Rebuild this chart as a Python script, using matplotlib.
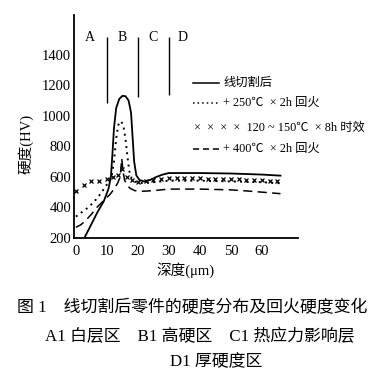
import matplotlib
matplotlib.use("Agg")
import matplotlib.pyplot as plt
from matplotlib.lines import Line2D

plt.rcParams['font.family'] = ['Liberation Serif', 'Noto Sans CJK SC', 'DejaVu Sans']

# as-cut (solid)
cut_x = [3, 5, 7, 9, 10.5, 11.3, 11.8, 12.3, 13, 14, 15, 16, 17, 17.8, 18.3, 18.8,
         19.5, 20.5, 22, 24, 26, 28, 30, 40, 50, 60, 66]
cut_y = [210, 290, 370, 440, 520, 600, 750, 920, 1050, 1110, 1130, 1128, 1100, 1020,
         860, 700, 610, 580, 570, 580, 600, 615, 625, 625, 622, 615, 608]

# + 250C x 2h tempering (dotted)
t250_x = [0, 2, 4, 6, 8, 10, 11.5, 12.3, 13, 13.7, 14.5, 15.3, 16, 16.6, 17.2, 18,
          19, 20, 22, 25, 30, 40, 50, 60, 66]
t250_y = [340, 370, 400, 440, 490, 550, 600, 700, 850, 940, 965, 940, 850, 740, 640,
          590, 570, 560, 560, 565, 575, 575, 570, 565, 558]

# 120~150C x 8h aging (x markers)
age_x = [0, 2.5, 5, 7.5, 10, 12, 13.5, 15, 16.5, 18, 20, 22.5, 25, 27.5, 30, 32.5,
         35, 37.5, 40, 42.5, 45, 47.5, 50, 52.5, 55, 57.5, 60, 62.5, 65]
age_y = [510, 545, 570, 575, 585, 600, 610, 650, 600, 580, 565, 570, 580, 585, 590,
         590, 592, 590, 590, 588, 588, 586, 585, 584, 582, 580, 578, 576, 575]

# + 400C x 2h tempering (dashed)
t400_x = [0, 1.5, 3, 5, 7, 9, 11, 12.5, 13.5, 14.3, 14.8, 15.2, 15.7, 16.5, 17.5, 19,
          21, 25, 30, 40, 50, 55, 60, 66]
t400_y = [270, 285, 310, 355, 405, 445, 485, 525, 560, 600, 720, 640, 580, 545, 525,
          510, 505, 510, 520, 520, 515, 508, 500, 490]

zone_x = [10, 20, 30]
zone_top = [1516, 1516, 1516]
zone_bot = [1084, 1123, 1135]
zone_labels = ['A', 'B', 'C', 'D']
zone_label_x = [4.5, 15, 25, 34.5]

yticks = [200, 400, 600, 800, 1000, 1200, 1400]
xticks = [0, 10, 20, 30, 40, 50, 60]

fig = plt.figure(figsize=(3.88, 3.82), dpi=100)
fig.patch.set_facecolor('white')
ax = fig.add_axes([0.1907, 0.377, 0.577, 0.584])

ax.plot(cut_x, cut_y, color='black', lw=1.3)
ax.plot(t250_x, t250_y, color='black', lw=1.4, linestyle=(0, (1, 2.2)))
ax.plot(age_x, age_y, color='black', lw=0, marker='x', ms=2.4, mew=0.9)
ax.plot(t400_x, t400_y, color='black', lw=1.1, linestyle=(0, (6, 3.5)))

ax.vlines(zone_x, zone_bot, zone_top, color='black', lw=1.0)
for lab, lx in zip(zone_labels, zone_label_x):
    ax.text(lx, 1510, lab, ha='center', va='center', fontsize=10, color='black')

ax.set_xlim(-0.6, 71.6)
ax.set_ylim(200, 1660)
ax.set_xticks(xticks)
ax.set_yticks(yticks)
ax.tick_params(axis='y', length=0, labelsize=10.5, pad=2)
ax.tick_params(axis='x', length=0, labelsize=10.5, pad=5)
for s in ['top', 'right']:
    ax.spines[s].set_visible(False)
for s in ['left', 'bottom']:
    ax.spines[s].set_linewidth(1.3)

ax.set_ylabel('硬度(HV)', fontsize=10.5)
ax.yaxis.set_label_coords(-0.18, 0.42)
ax.set_xlabel('深度(μm)', fontsize=10.5, labelpad=3)

# legend drawn by hand
def px(x, y):
    return x / 388, 1 - y / 382

legend_rows = [
    (83, '-', '线切割后'),
    (103, ':', '+ 250℃  × 2h 回火'),
    (128, None, '×  ×  ×  ×  120 ~ 150℃  × 8h 时效'),
    (149, '--', '+ 400℃  × 2h 回火'),
]
for y, ls, txt in legend_rows:
    if ls is not None:
        x0, yy = px(193, y)
        x1, _ = px(219, y)
        style = {'-': '-', ':': (0, (1, 2)), '--': (0, (4, 2.5))}[ls]
        fig.add_artist(Line2D([x0, x1], [yy, yy], color='black', lw=1.1, linestyle=style))
        tx, ty = px(223, y)
    else:
        tx, ty = px(194, y)
    fig.text(tx, ty, txt, fontsize=8.8, va='center', ha='left')

fig.text(17 / 388, 1 - 308 / 382, '图 1    线切割后零件的硬度分布及回火硬度变化',
         fontsize=12.2, va='center', ha='left')
fig.text(200 / 388, 1 - 337 / 382, 'A1 白层区    B1 高硬区    C1 热应力影响层',
         fontsize=12.2, va='center', ha='center')
fig.text(216 / 388, 1 - 362 / 382, 'D1 厚硬度区',
         fontsize=12.2, va='center', ha='center')

fig.savefig('out.png', dpi=100, facecolor='white')
